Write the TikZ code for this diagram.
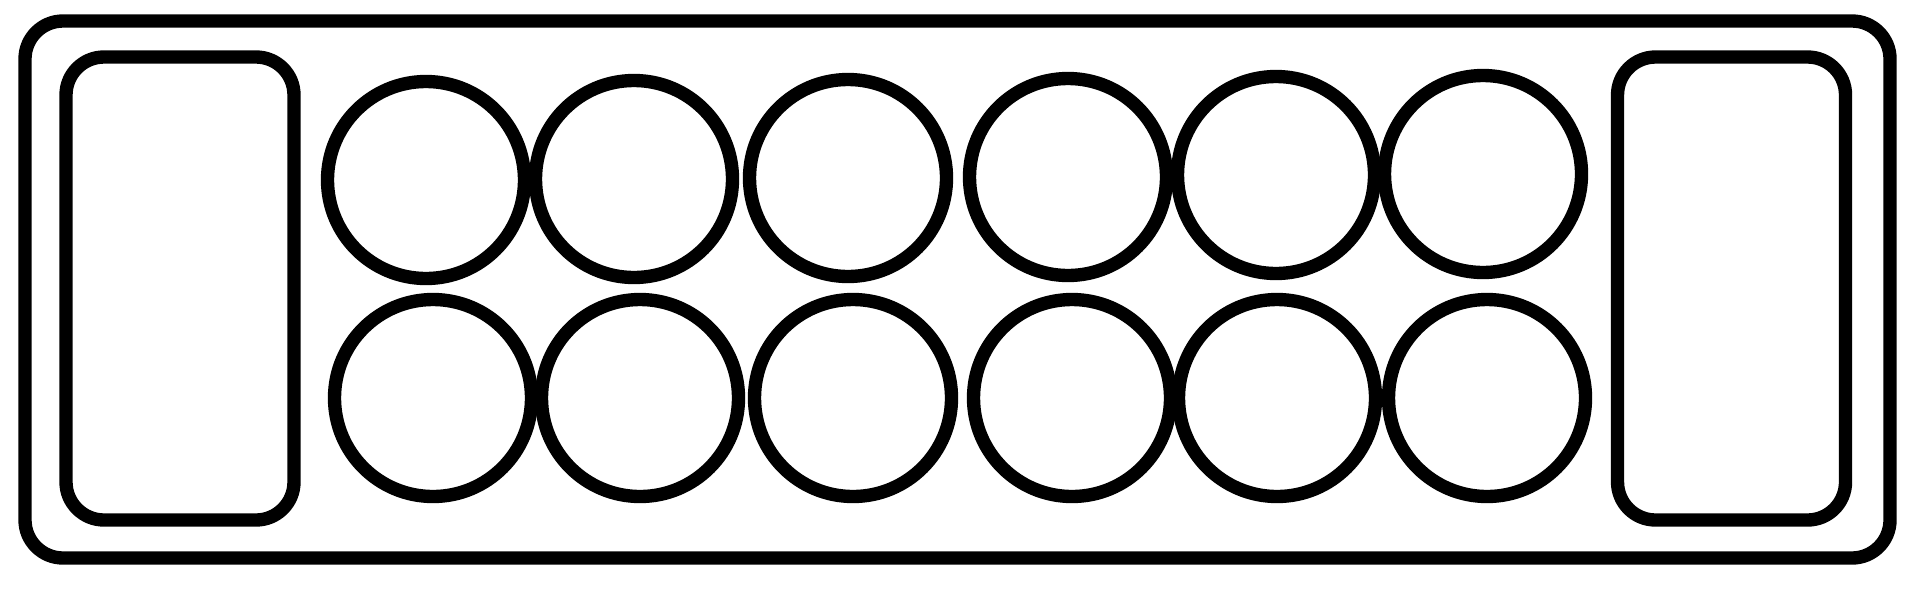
\documentclass[tikz,border=0pt]{standalone}
\usepackage{tikz}
\usetikzlibrary{positioning}

\begin{document}
\begin{tikzpicture}[line width=3.8pt,
      board/.style={draw, rounded corners=0.38cm, minimum width=18.65cm, minimum height=5.37cm, inner sep=0},
      store/.style={draw, rounded corners=0.38cm, minimum width=2.28cm, minimum height=4.63cm, inner sep=0},
      pit/.style={draw, circle, minimum size=1.97cm, inner sep=0}]
      \useasboundingbox (0,0) rectangle (19.12,5.88);
      \node[board] (board) at (9.575,2.985) {};
      \node[store] (sL) at (1.80,2.995) {};
      \node[store] (sR) at (17.315,2.995) {};
      % upper row
      \foreach \x/\y [count=\i] in {4.26/4.08, 6.34/4.09, 8.48/4.10, 10.68/4.11, 12.76/4.13, 14.83/4.14}
        \node[pit] (t\i) at (\x,\y) {};
      % lower row
      \foreach \x [count=\i] in {4.33, 6.40, 8.53, 10.72, 12.77, 14.87}
        \node[pit] (b\i) at (\x,1.90) {};
    \end{tikzpicture}
\end{document}
